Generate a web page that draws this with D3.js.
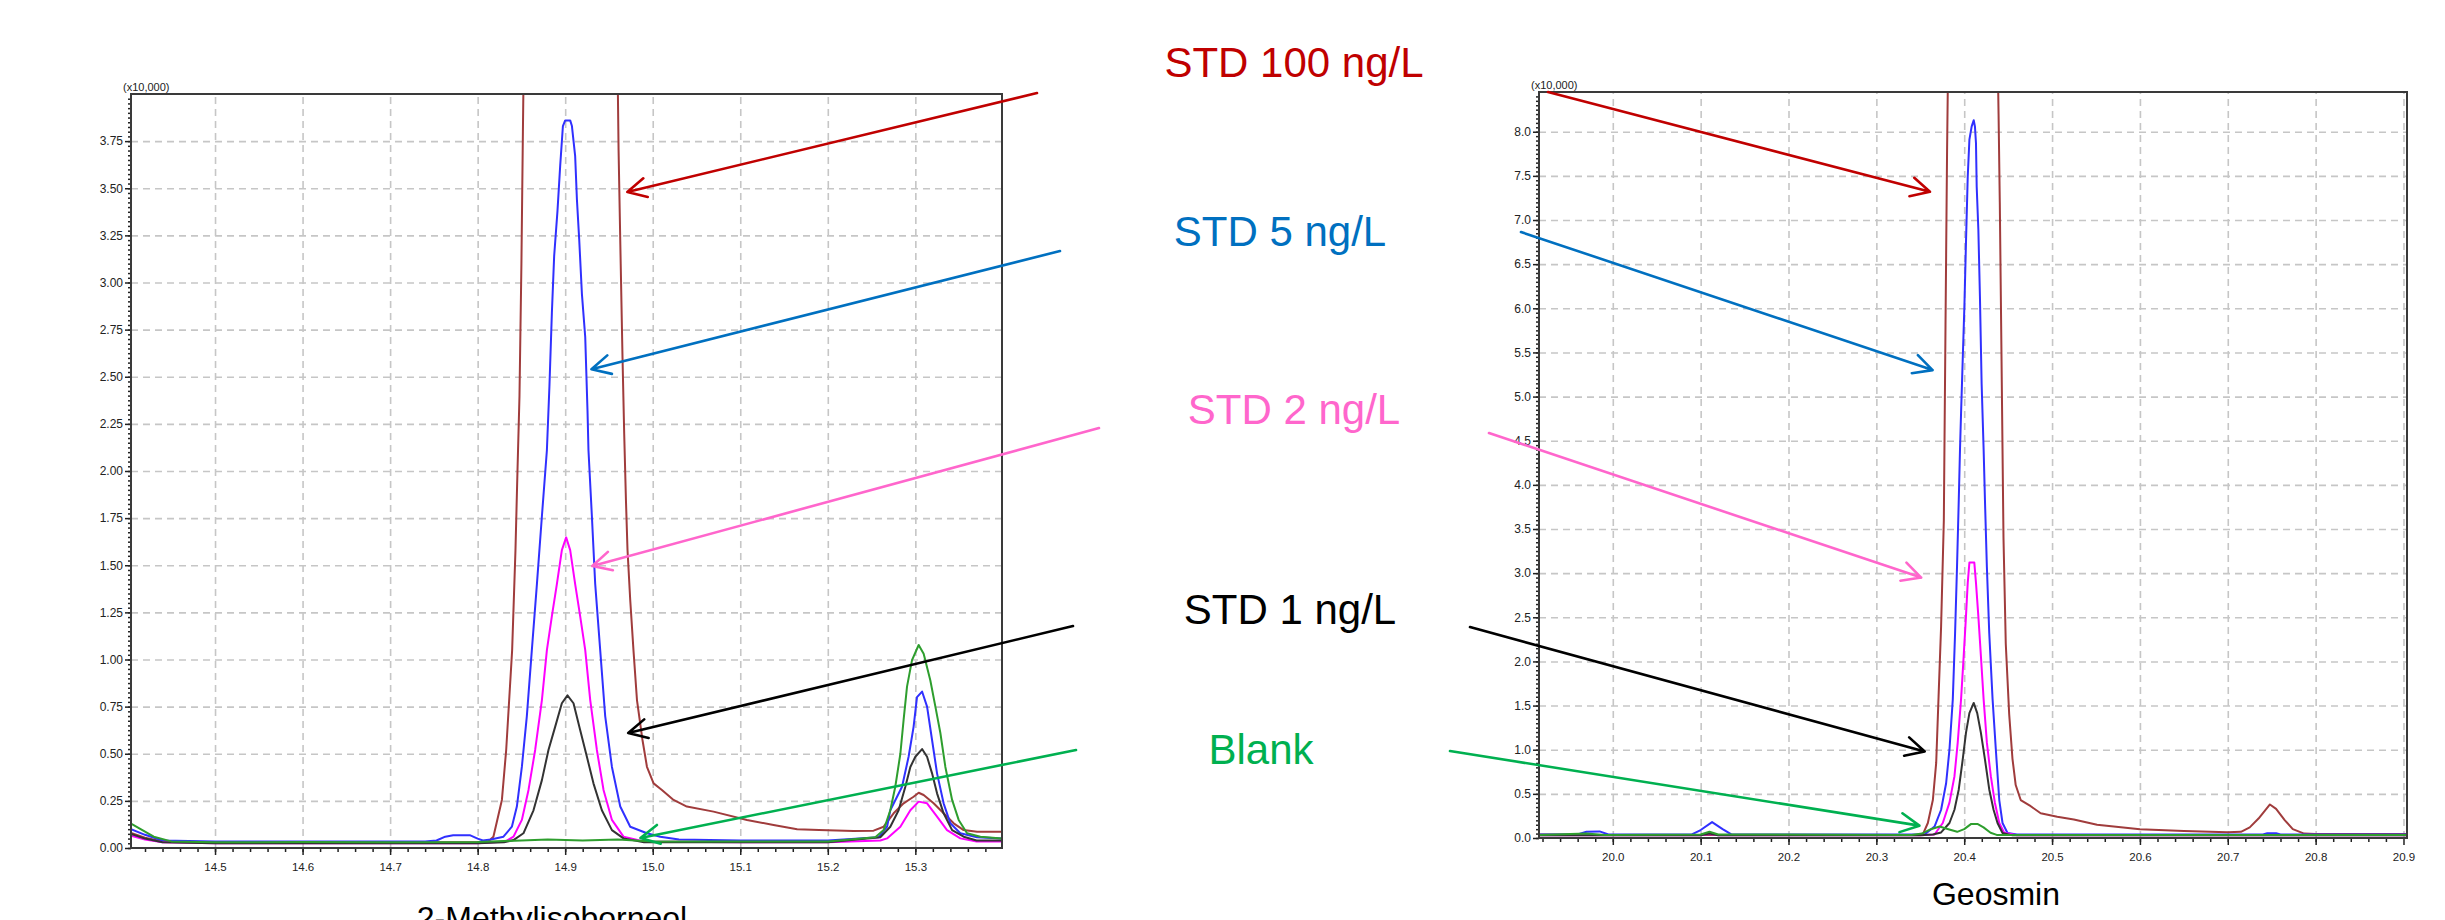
<!DOCTYPE html>
<html>
<head>
<meta charset="utf-8">
<script src="https://cdnjs.cloudflare.com/ajax/libs/d3/7.8.5/d3.min.js"></script>
<style>
  body { margin: 0; background: #fff; }
  svg { display: block; font-family: "Liberation Sans", Arial, sans-serif; }
</style>
</head>
<body>
<div id="chart"></div>
<script>
// Define SVG area dimensions
var svgWidth = 2445;
var svgHeight = 920;

// ---------------- data ----------------
// tick values
var mibXTicks = [14.5, 14.6, 14.7, 14.8, 14.9, 15.0, 15.1, 15.2, 15.3];
var mibYTicks = [0, 0.25, 0.5, 0.75, 1.0, 1.25, 1.5, 1.75, 2.0, 2.25, 2.5, 2.75, 3.0, 3.25, 3.5, 3.75];
var geoXTicks = [20.0, 20.1, 20.2, 20.3, 20.4, 20.5, 20.6, 20.7, 20.8, 20.9];
var geoYTicks = [0, 0.5, 1.0, 1.5, 2.0, 2.5, 3.0, 3.5, 4.0, 4.5, 5.0, 5.5, 6.0, 6.5, 7.0, 7.5, 8.0];

var seriesNames = ["STD 100 ng/L", "STD 5 ng/L", "STD 2 ng/L", "STD 1 ng/L", "Blank"];
var chartTitles = ["2-Methylisoborneol", "Geosmin"];
var yUnit = "(x10,000)";

// 2-MIB traces: [retention time (min), intensity (x10,000)]
var mibStd100 = [[14.404, 0.08], [14.42, 0.055], [14.44, 0.035], [14.5, 0.03], [14.6, 0.03], [14.7, 0.03],
  [14.8, 0.03], [14.812, 0.035], [14.818, 0.06], [14.8277, 0.255], [14.8326, 0.52], [14.8394, 1.05],
  [14.8432, 1.58], [14.8455, 2.0], [14.8478, 2.4], [14.85, 3.1], [14.8517, 3.8], [14.856, 5.5], [14.9, 7.5],
  [14.955, 6.0], [14.961, 3.7], [14.963, 3.2], [14.9655, 2.6], [14.9674, 2.2], [14.9694, 1.846],
  [14.9712, 1.581], [14.9743, 1.316], [14.978, 1.05], [14.982, 0.785], [14.9883, 0.573], [14.9934, 0.431],
  [15.001, 0.343], [15.0105, 0.308], [15.0238, 0.255], [15.039, 0.22], [15.0695, 0.193], [15.1077, 0.149],
  [15.138, 0.122], [15.165, 0.10], [15.19, 0.095], [15.2295, 0.09], [15.2523, 0.092], [15.2638, 0.113],
  [15.2752, 0.184], [15.2866, 0.237], [15.298, 0.272], [15.3038, 0.293], [15.3095, 0.281], [15.3209, 0.237],
  [15.3323, 0.184], [15.3438, 0.131], [15.3552, 0.095], [15.3705, 0.086], [15.399, 0.086]];

var mibStd5 = [[14.404, 0.10], [14.42, 0.07], [14.44, 0.04], [14.5, 0.035], [14.6, 0.035], [14.7, 0.035],
  [14.74, 0.035], [14.753, 0.04], [14.763, 0.06], [14.772, 0.068], [14.791, 0.068], [14.8, 0.05],
  [14.806, 0.04], [14.815, 0.045], [14.8295, 0.06], [14.8391, 0.113], [14.8448, 0.22], [14.8505, 0.43],
  [14.8562, 0.70], [14.8619, 1.05], [14.8677, 1.40], [14.8734, 1.76], [14.8791, 2.11], [14.882, 2.45],
  [14.8848, 2.84], [14.8874, 3.14], [14.8912, 3.38], [14.8943, 3.62], [14.8974, 3.83], [14.9, 3.86],
  [14.9057, 3.86], [14.9077, 3.83], [14.9114, 3.67], [14.9134, 3.44], [14.916, 3.23], [14.9191, 2.94],
  [14.9229, 2.71], [14.9255, 2.32], [14.9266, 2.11], [14.9305, 1.76], [14.9343, 1.40], [14.94, 1.05],
  [14.9457, 0.70], [14.9534, 0.43], [14.9629, 0.22], [14.9743, 0.113], [14.9934, 0.078], [15.0086, 0.06],
  [15.03, 0.045], [15.1, 0.04], [15.2, 0.04], [15.2581, 0.057], [15.2677, 0.113], [15.2714, 0.20],
  [15.2848, 0.325], [15.2923, 0.484], [15.298, 0.643], [15.3019, 0.80], [15.3077, 0.83], [15.3134, 0.75],
  [15.3191, 0.573], [15.3248, 0.396], [15.3323, 0.237], [15.34, 0.131], [15.3514, 0.078], [15.3705, 0.057],
  [15.399, 0.05]];

var mibStd2 = [[14.404, 0.065], [14.42, 0.045], [14.44, 0.03], [14.5, 0.025], [14.7, 0.025], [14.8, 0.025],
  [14.832, 0.035], [14.8409, 0.06], [14.8505, 0.149], [14.8581, 0.308], [14.8657, 0.52], [14.8734, 0.785],
  [14.8791, 1.05], [14.8848, 1.23], [14.8905, 1.40], [14.8962, 1.58], [14.9011, 1.648], [14.9057, 1.58],
  [14.9114, 1.40], [14.9171, 1.23], [14.9229, 1.05], [14.9286, 0.785], [14.9362, 0.52], [14.9438, 0.308],
  [14.9534, 0.149], [14.9666, 0.06], [14.99, 0.035], [15.1, 0.03], [15.2, 0.03], [15.26, 0.04],
  [15.2677, 0.051], [15.2829, 0.113], [15.2943, 0.20], [15.3038, 0.246], [15.3134, 0.237], [15.3248, 0.166],
  [15.3362, 0.095], [15.3514, 0.051], [15.37, 0.035], [15.399, 0.035]];

var mibStd1 = [[14.404, 0.075], [14.42, 0.05], [14.44, 0.03], [14.5, 0.025], [14.7, 0.025], [14.8, 0.025],
  [14.83, 0.03], [14.8409, 0.042], [14.8523, 0.078], [14.8638, 0.20], [14.8734, 0.36], [14.8809, 0.52],
  [14.8886, 0.644], [14.8962, 0.768], [14.9026, 0.81], [14.9095, 0.768], [14.9171, 0.626], [14.9248, 0.484],
  [14.9323, 0.343], [14.9419, 0.20], [14.9534, 0.095], [14.9666, 0.051], [14.99, 0.03], [15.1, 0.03],
  [15.2, 0.03], [15.26, 0.057], [15.2714, 0.113], [15.2809, 0.20], [15.2886, 0.325], [15.2943, 0.43],
  [15.3, 0.484], [15.3077, 0.525], [15.3134, 0.484], [15.3191, 0.396], [15.3248, 0.29], [15.3323, 0.184],
  [15.342, 0.095], [15.3552, 0.06], [15.37, 0.04], [15.399, 0.04]];

var mibBlank = [[14.404, 0.13], [14.415, 0.10], [14.43, 0.06], [14.45, 0.035], [14.5, 0.03], [14.6, 0.032],
  [14.7, 0.03], [14.8, 0.032], [14.85, 0.04], [14.88, 0.045], [14.92, 0.04], [14.96, 0.045], [15.0, 0.035],
  [15.1, 0.035], [15.2, 0.035], [15.2543, 0.057], [15.2638, 0.095], [15.2714, 0.20], [15.2771, 0.325],
  [15.2829, 0.50], [15.2866, 0.68], [15.2905, 0.856], [15.2962, 0.997], [15.3038, 1.077], [15.3095, 1.03],
  [15.3171, 0.89], [15.3229, 0.75], [15.3286, 0.61], [15.3343, 0.43], [15.342, 0.255], [15.3495, 0.149],
  [15.3591, 0.078], [15.3743, 0.06], [15.399, 0.05]];

// Geosmin traces
var geoStd100 = [[19.916, 0.04], [20.0, 0.035], [20.1, 0.035], [20.2, 0.035], [20.3, 0.035], [20.35, 0.035],
  [20.3529, 0.04], [20.3586, 0.17], [20.3643, 0.43], [20.3681, 0.85], [20.3708, 1.6], [20.3737, 2.4],
  [20.3768, 3.6], [20.3787, 5.8], [20.3805, 7.8], [20.3825, 9.5], [20.41, 12.0], [20.437, 9.5],
  [20.4391, 8.2], [20.4405, 7.2], [20.4425, 5.4], [20.4447, 3.4], [20.4473, 2.2], [20.4512, 1.4],
  [20.4549, 0.9], [20.4586, 0.6], [20.4643, 0.43], [20.4757, 0.36], [20.487, 0.28], [20.5059, 0.24],
  [20.5248, 0.21], [20.5512, 0.15], [20.6, 0.10], [20.65, 0.08], [20.7, 0.065], [20.715, 0.07],
  [20.725, 0.12], [20.735, 0.22], [20.748, 0.38], [20.755, 0.33], [20.765, 0.2], [20.774, 0.1],
  [20.787, 0.05], [20.8, 0.045], [20.904, 0.045]];

var geoStd5 = [[19.916, 0.04], [19.96, 0.04], [19.97, 0.07], [19.985, 0.075], [19.995, 0.04], [20.09, 0.04],
  [20.1, 0.09], [20.113, 0.18], [20.125, 0.1], [20.135, 0.04], [20.3549, 0.04], [20.3662, 0.13],
  [20.3737, 0.32], [20.3794, 0.62], [20.3832, 1.00], [20.387, 1.57], [20.3896, 2.32], [20.3918, 3.07],
  [20.3938, 3.83], [20.3952, 4.40], [20.3964, 4.81], [20.3983, 5.42], [20.4002, 6.02], [20.402, 6.74],
  [20.404, 7.49], [20.4059, 7.91], [20.4085, 8.06], [20.4108, 8.13], [20.4122, 8.06], [20.4134, 7.87],
  [20.4142, 7.38], [20.4161, 6.89], [20.4179, 6.13], [20.4198, 5.15], [20.4221, 4.40], [20.4236, 3.83],
  [20.4258, 3.07], [20.4285, 2.32], [20.4323, 1.57], [20.436, 1.00], [20.4399, 0.43], [20.4436, 0.17],
  [20.4493, 0.057], [20.46, 0.04], [20.74, 0.04], [20.745, 0.055], [20.755, 0.055], [20.76, 0.04],
  [20.904, 0.04]];

var geoStd2 = [[19.916, 0.03], [20.1, 0.03], [20.11, 0.045], [20.12, 0.03], [20.35, 0.03], [20.3662, 0.04],
  [20.3756, 0.17], [20.3832, 0.40], [20.3889, 0.70], [20.3926, 1.08], [20.3964, 1.57], [20.3994, 2.06],
  [20.402, 2.51], [20.404, 2.89], [20.4059, 3.12], [20.4115, 3.12], [20.4134, 2.89], [20.4161, 2.51],
  [20.419, 2.06], [20.4221, 1.57], [20.4258, 1.08], [20.4303, 0.70], [20.4349, 0.40], [20.4399, 0.17],
  [20.4455, 0.06], [20.46, 0.03], [20.904, 0.03]];

var geoStd1 = [[19.916, 0.03], [20.1, 0.03], [20.11, 0.05], [20.12, 0.03], [20.35, 0.03], [20.3643, 0.04],
  [20.3737, 0.063], [20.3832, 0.17], [20.3889, 0.32], [20.3938, 0.55], [20.3983, 0.89], [20.402, 1.19],
  [20.4059, 1.415], [20.4108, 1.53], [20.4148, 1.415], [20.419, 1.19], [20.4236, 0.89], [20.4285, 0.55],
  [20.4334, 0.32], [20.4379, 0.17], [20.4436, 0.057], [20.455, 0.03], [20.904, 0.03]];

var geoBlank = [[19.916, 0.035], [19.97, 0.05], [19.99, 0.035], [20.1, 0.04], [20.11, 0.07], [20.12, 0.04],
  [20.34, 0.035], [20.352, 0.05], [20.362, 0.1], [20.372, 0.13], [20.382, 0.1], [20.392, 0.07], [20.4, 0.1],
  [20.408, 0.16], [20.415, 0.16], [20.422, 0.12], [20.43, 0.06], [20.437, 0.035], [20.904, 0.035]];

// what each arrow points at, in chart units [time, intensity]
var mibArrowTips = [[14.971, 3.48], [14.930, 2.54], [14.931, 1.496], [14.972, 0.61], [14.986, 0.053]];
var geoArrowTips = [[20.361, 7.32], [20.364, 5.30], [20.351, 2.95], [20.355, 0.98], [20.349, 0.14]];

// ---------------- layout / style ----------------
var traceColors = ["#a03c3c", "#3030ff", "#ff00ff", "#333333", "#2e9e2e"];
var noteColors = ["#c00000", "#0070c0", "#ff66cc", "#000000", "#00b050"];
var noteCenters = [[1294, 77], [1280, 246], [1294, 424], [1290, 624], [1261, 764]];
var mibArrowTails = [[1037, 93], [1060, 251], [1099, 428], [1073, 626], [1076, 750]];
var geoArrowTails = [[1548, 92], [1521, 232], [1489, 433], [1470, 627], [1450, 751]];

var svg = d3.select("#chart")
  .append("svg")
  .attr("width", svgWidth)
  .attr("height", svgHeight);

svg.append("rect").attr("width", svgWidth).attr("height", svgHeight).attr("fill", "#fff");

function drawChart(cfg) {
  var x = d3.scaleLinear().domain(cfg.xDomain).range([cfg.left, cfg.right]);
  var y = d3.scaleLinear().domain(cfg.yDomain).range([cfg.bottom, cfg.top]);
  var w = cfg.right - cfg.left;
  var h = cfg.bottom - cfg.top;
  var g = svg.append("g");

  // Step 1: dashed grid
  var gx = g.append("g")
    .attr("transform", `translate(0, ${cfg.bottom})`)
    .call(d3.axisBottom(x).tickValues(cfg.xTicks).tickSize(-h).tickFormat(""));
  gx.select(".domain").remove();
  var gy = g.append("g")
    .attr("transform", `translate(${cfg.left}, 0)`)
    .call(d3.axisLeft(y).tickValues(cfg.yTicks.filter(v => v > 0)).tickSize(-w).tickFormat(""));
  gy.select(".domain").remove();
  g.selectAll("line")
    .attr("stroke", "#c6c6c6")
    .attr("stroke-width", 1.6)
    .attr("stroke-dasharray", "7,5");

  // Step 2: traces, clipped to the plot box
  svg.append("clipPath").attr("id", cfg.id + "-clip")
    .append("rect")
    .attr("x", cfg.left).attr("y", cfg.top)
    .attr("width", w).attr("height", h);

  var line = d3.line().x(d => x(d[0])).y(d => y(d[1]));
  g.append("g")
    .attr("clip-path", `url(#${cfg.id}-clip)`)
    .selectAll("path")
    .data(cfg.series)
    .enter()
    .append("path")
    .attr("d", d => line(d.values))
    .attr("fill", "none")
    .attr("stroke", d => d.color)
    .attr("stroke-width", 2)
    .attr("stroke-linejoin", "round");

  // Step 3: axes with minor ticks
  var minorX = g.append("g")
    .attr("transform", `translate(0, ${cfg.bottom})`)
    .call(d3.axisBottom(x).tickValues(cfg.xMinor).tickSize(4).tickFormat(""));
  minorX.select(".domain").remove();

  var majorX = g.append("g")
    .attr("transform", `translate(0, ${cfg.bottom})`)
    .style("font-size", "11.5px")
    .call(d3.axisBottom(x).tickValues(cfg.xTicks).tickSize(7).tickPadding(8).tickFormat(d3.format(".1f")));
  majorX.select(".domain").remove();

  var minorY = g.append("g")
    .attr("transform", `translate(${cfg.left}, 0)`)
    .call(d3.axisLeft(y).tickValues(cfg.yMinor).tickSize(3).tickFormat(""));
  minorY.select(".domain").remove();

  var majorY = g.append("g")
    .attr("transform", `translate(${cfg.left}, 0)`)
    .style("font-size", "12px")
    .call(d3.axisLeft(y).tickValues(cfg.yTicks).tickSize(6).tickPadding(2).tickFormat(d3.format(cfg.yFmt)));
  majorY.select(".domain").remove();

  [minorX, majorX, minorY, majorY].forEach(function(a) {
    a.selectAll("line").attr("stroke", "#222").attr("stroke-width", 1.5);
    a.selectAll("text").attr("fill", "#222");
  });

  // Step 4: frame
  g.append("rect")
    .attr("x", cfg.left).attr("y", cfg.top)
    .attr("width", w).attr("height", h)
    .attr("fill", "none")
    .attr("stroke", "#3a3a3a")
    .attr("stroke-width", 2);

  g.append("text")
    .attr("x", cfg.left - 8)
    .attr("y", cfg.top - 3)
    .style("font-size", "11px")
    .attr("fill", "#222")
    .text(yUnit);

  // Step 5: compound name under the chart
  g.append("text")
    .attr("x", cfg.titleX)
    .attr("y", cfg.titleY)
    .attr("text-anchor", "middle")
    .style("font-size", "32px")
    .attr("fill", "#000")
    .text(cfg.title);

  return { x: x, y: y };
}

var mib = drawChart({
  id: "mib",
  left: 131, right: 1002, top: 94, bottom: 848,
  xDomain: [14.404, 15.399], yDomain: [0, 4.0],
  xTicks: mibXTicks, yTicks: mibYTicks, yFmt: ".2f",
  xMinor: d3.range(14.42, 15.39, 0.02),
  yMinor: d3.range(0, 3.99, 0.025),
  title: chartTitles[0], titleX: 552, titleY: 929,
  series: [mibStd100, mibStd5, mibStd2, mibStd1, mibBlank].map((v, i) => ({ values: v, color: traceColors[i] }))
});

var geo = drawChart({
  id: "geo",
  left: 1539, right: 2407, top: 92, bottom: 838,
  xDomain: [19.916, 20.904], yDomain: [0, 8.45],
  xTicks: geoXTicks, yTicks: geoYTicks, yFmt: ".1f",
  xMinor: d3.range(19.92, 20.9, 0.02),
  yMinor: d3.range(0, 8.44, 0.05),
  title: chartTitles[1], titleX: 1996, titleY: 905,
  series: [geoStd100, geoStd5, geoStd2, geoStd1, geoBlank].map((v, i) => ({ values: v, color: traceColors[i] }))
});

// Step 6: arrows and labels in the middle
function drawArrow(x1, y1, x2, y2, color) {
  var ang = Math.atan2(y1 - y2, x1 - x2);
  var len = 21, spread = 27 * Math.PI / 180;
  var a1 = [x2 + len * Math.cos(ang - spread), y2 + len * Math.sin(ang - spread)];
  var a2 = [x2 + len * Math.cos(ang + spread), y2 + len * Math.sin(ang + spread)];
  svg.append("path")
    .attr("d", `M${x1},${y1}L${x2},${y2}M${a1[0]},${a1[1]}L${x2},${y2}L${a2[0]},${a2[1]}`)
    .attr("fill", "none")
    .attr("stroke", color)
    .attr("stroke-width", 2.6)
    .attr("stroke-linecap", "round")
    .attr("stroke-linejoin", "round");
}

seriesNames.forEach(function(name, i) {
  drawArrow(mibArrowTails[i][0], mibArrowTails[i][1],
    mib.x(mibArrowTips[i][0]), mib.y(mibArrowTips[i][1]), noteColors[i]);
  drawArrow(geoArrowTails[i][0], geoArrowTails[i][1],
    geo.x(geoArrowTips[i][0]), geo.y(geoArrowTips[i][1]), noteColors[i]);

  svg.append("text")
    .attr("x", noteCenters[i][0])
    .attr("y", noteCenters[i][1])
    .attr("text-anchor", "middle")
    .style("font-size", "42px")
    .attr("fill", noteColors[i])
    .text(name);
});
</script>
</body>
</html>
